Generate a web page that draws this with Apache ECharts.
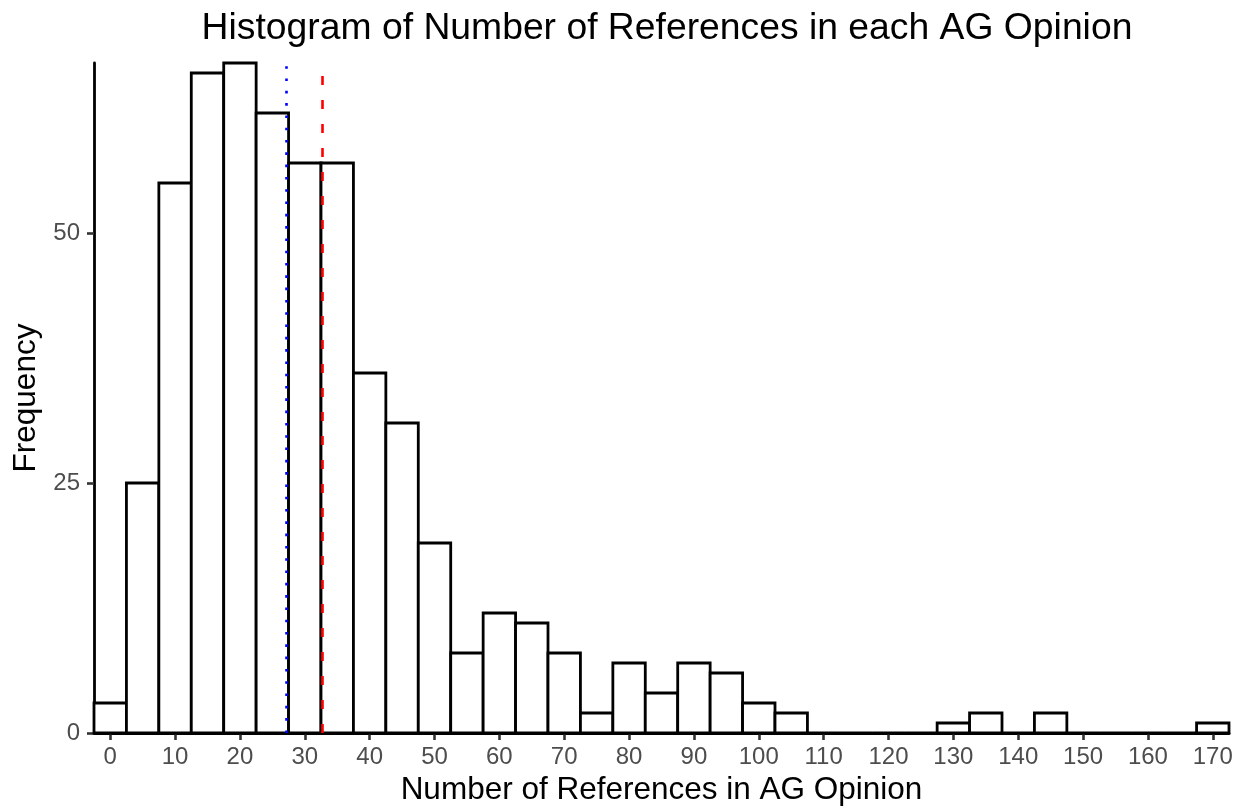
<!DOCTYPE html>
<html>
<head>
<meta charset="utf-8">
<script src="https://cdn.jsdelivr.net/npm/echarts@6/dist/echarts.min.js"></script>
<style>
html,body{margin:0;padding:0;background:#fff;}
#chart{width:1239px;height:811px;}
</style>
</head>
<body>
<div id="chart"></div>
<script>
// Bin centres (binwidth 5) and counts
const binCenters = [0,5,10,15,20,25,30,35,40,45,50,55,60,65,70,75,80,85,90,95,100,105,110,115,120,125,130,135,140,145,150,155,160,165,170];
const counts = [3,25,55,66,67,62,57,57,36,31,19,8,12,11,8,2,7,4,7,6,3,2,0,0,0,0,1,2,0,2,0,0,0,0,1];
const binWidth = 5;
const xTicks = [0,10,20,30,40,50,60,70,80,90,100,110,120,130,140,150,160,170];
const yTicks = [0,25,50];
const medianValue = 27.1;
const meanValue = 32.7;

const FONT = '"Liberation Sans", Arial, Helvetica, sans-serif';
const chart = echarts.init(document.getElementById('chart'), null, {renderer:'canvas'});

const data = binCenters.map((c,i)=>[c, counts[i]]);

chart.setOption({
  animation:false,
  backgroundColor:'#ffffff',
  title:{
    text:'Histogram of Number of References in each AG Opinion',
    left:662, top:5, textAlign:'center',
    textStyle:{fontFamily:FONT, fontSize:37.3, fontWeight:'normal', color:'#000'}
  },
  grid:{left:94, right:10, top:63, bottom:75, containLabel:false},
  xAxis:{
    type:'value', min:-2.5, max:172.5,
    name:'Number of References in AG Opinion',
    nameLocation:'middle', nameGap:41,
    nameTextStyle:{fontFamily:FONT, fontSize:31.5, color:'#000'},
    splitLine:{show:false},
    axisLine:{show:true, onZero:false, lineStyle:{color:'#000', width:2.8}},
    axisTick:{show:true, length:7, customValues:xTicks, lineStyle:{color:'#333', width:2.6}},
    axisLabel:{customValues:xTicks, margin:12, fontFamily:FONT, fontSize:24, color:'#4d4d4d'}
  },
  yAxis:{
    type:'value', min:0, max:67, interval:25,
    name:'Frequency',
    nameLocation:'middle', nameGap:50, nameRotate:90,
    nameTextStyle:{fontFamily:FONT, fontSize:31.5, color:'#000'},
    splitLine:{show:false},
    axisLine:{show:true, onZero:false, lineStyle:{color:'#000', width:2.8}},
    axisTick:{show:true, length:7, customValues:yTicks, lineStyle:{color:'#333', width:2.6}},
    axisLabel:{customValues:yTicks, margin:14, fontFamily:FONT, fontSize:24, color:'#4d4d4d'}
  },
  series:[
    {
      type:'custom',
      data:data,
      clip:false,
      renderItem:function(params, api){
        const x = api.value(0), y = api.value(1);
        const p0 = api.coord([x - binWidth/2, 0]);
        const p1 = api.coord([x + binWidth/2, y]);
        return {
          type:'rect',
          shape:{x:p0[0], y:p1[1], width:p1[0]-p0[0], height:p0[1]-p1[1]},
          style:{fill:'#ffffff', stroke:'#000000', lineWidth:2.8}
        };
      },
      markLine:{
        silent:true, symbol:['none','none'], label:{show:false},
        data:[
          {xAxis:medianValue, lineStyle:{color:'#0000ff', width:2.6, type:[2.6,9.7], cap:'butt'}},
          {xAxis:meanValue, lineStyle:{color:'#ff0000', width:2.6, type:[9,15], cap:'butt'}}
        ]
      },
      z:2
    }
  ]
});
</script>
</body>
</html>
